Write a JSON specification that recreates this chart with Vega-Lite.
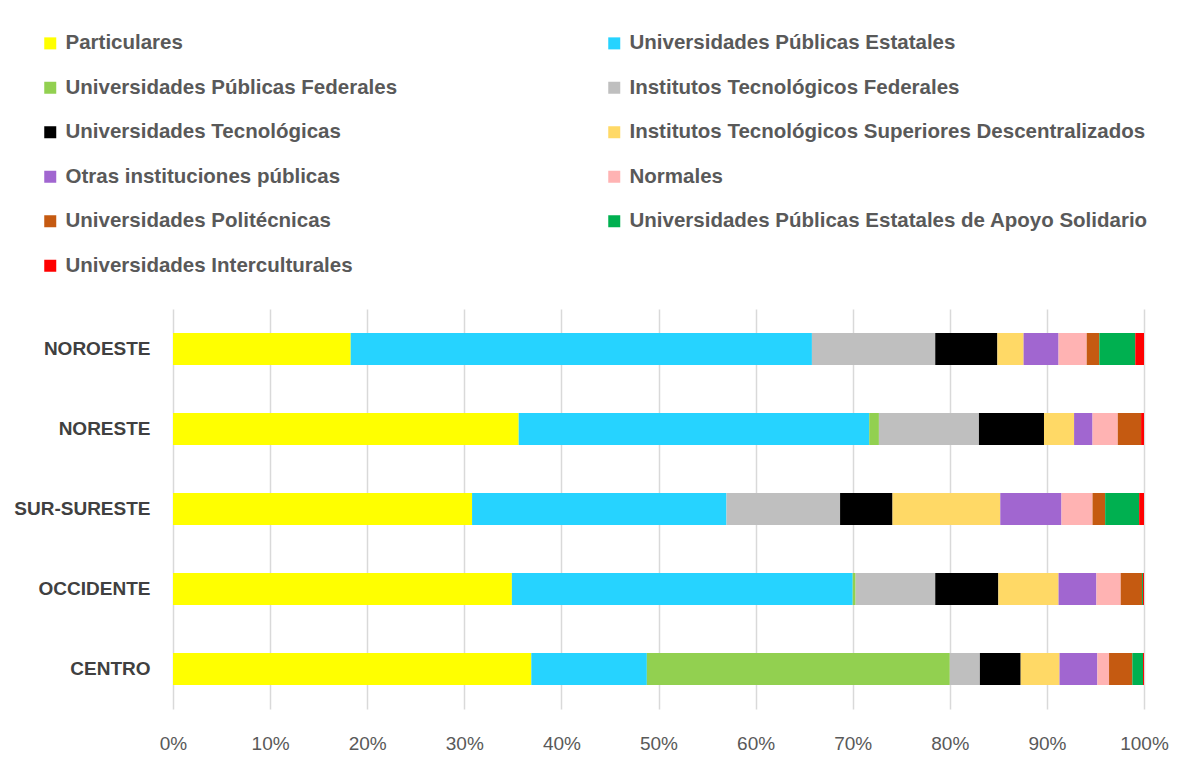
{
  "$schema": "https://vega.github.io/schema/vega-lite/v6.json",
  "width": 971,
  "height": 400,
  "autosize": {"type": "none"},
  "padding": {"left": 173, "top": 309, "right": 33, "bottom": 49},
  "background": "white",
  "config": {"view": {"stroke": null}},
  "data": {
    "values": [
      {"region": "NOROESTE", "tipo": "Particulares", "o": 1, "v": 18.3},
      {"region": "NOROESTE", "tipo": "Universidades Públicas Estatales", "o": 2, "v": 47.5},
      {"region": "NOROESTE", "tipo": "Universidades Públicas Federales", "o": 3, "v": 0},
      {"region": "NOROESTE", "tipo": "Institutos Tecnológicos Federales", "o": 4, "v": 12.7},
      {"region": "NOROESTE", "tipo": "Universidades Tecnológicas", "o": 5, "v": 6.4},
      {"region": "NOROESTE", "tipo": "Institutos Tecnológicos Superiores Descentralizados", "o": 6, "v": 2.7},
      {"region": "NOROESTE", "tipo": "Otras instituciones públicas", "o": 7, "v": 3.6},
      {"region": "NOROESTE", "tipo": "Normales", "o": 8, "v": 2.9},
      {"region": "NOROESTE", "tipo": "Universidades Politécnicas", "o": 9, "v": 1.3},
      {"region": "NOROESTE", "tipo": "Universidades Públicas Estatales de Apoyo Solidario", "o": 10, "v": 3.7},
      {"region": "NOROESTE", "tipo": "Universidades Interculturales", "o": 11, "v": 0.9},

      {"region": "NORESTE", "tipo": "Particulares", "o": 1, "v": 35.6},
      {"region": "NORESTE", "tipo": "Universidades Públicas Estatales", "o": 2, "v": 36.1},
      {"region": "NORESTE", "tipo": "Universidades Públicas Federales", "o": 3, "v": 1.0},
      {"region": "NORESTE", "tipo": "Institutos Tecnológicos Federales", "o": 4, "v": 10.3},
      {"region": "NORESTE", "tipo": "Universidades Tecnológicas", "o": 5, "v": 6.7},
      {"region": "NORESTE", "tipo": "Institutos Tecnológicos Superiores Descentralizados", "o": 6, "v": 3.1},
      {"region": "NORESTE", "tipo": "Otras instituciones públicas", "o": 7, "v": 1.9},
      {"region": "NORESTE", "tipo": "Normales", "o": 8, "v": 2.6},
      {"region": "NORESTE", "tipo": "Universidades Politécnicas", "o": 9, "v": 2.4},
      {"region": "NORESTE", "tipo": "Universidades Públicas Estatales de Apoyo Solidario", "o": 10, "v": 0},
      {"region": "NORESTE", "tipo": "Universidades Interculturales", "o": 11, "v": 0.3},

      {"region": "SUR-SURESTE", "tipo": "Particulares", "o": 1, "v": 30.8},
      {"region": "SUR-SURESTE", "tipo": "Universidades Públicas Estatales", "o": 2, "v": 26.2},
      {"region": "SUR-SURESTE", "tipo": "Universidades Públicas Federales", "o": 3, "v": 0},
      {"region": "SUR-SURESTE", "tipo": "Institutos Tecnológicos Federales", "o": 4, "v": 11.7},
      {"region": "SUR-SURESTE", "tipo": "Universidades Tecnológicas", "o": 5, "v": 5.4},
      {"region": "SUR-SURESTE", "tipo": "Institutos Tecnológicos Superiores Descentralizados", "o": 6, "v": 11.1},
      {"region": "SUR-SURESTE", "tipo": "Otras instituciones públicas", "o": 7, "v": 6.3},
      {"region": "SUR-SURESTE", "tipo": "Normales", "o": 8, "v": 3.2},
      {"region": "SUR-SURESTE", "tipo": "Universidades Politécnicas", "o": 9, "v": 1.3},
      {"region": "SUR-SURESTE", "tipo": "Universidades Públicas Estatales de Apoyo Solidario", "o": 10, "v": 3.5},
      {"region": "SUR-SURESTE", "tipo": "Universidades Interculturales", "o": 11, "v": 0.5},

      {"region": "OCCIDENTE", "tipo": "Particulares", "o": 1, "v": 34.9},
      {"region": "OCCIDENTE", "tipo": "Universidades Públicas Estatales", "o": 2, "v": 35.1},
      {"region": "OCCIDENTE", "tipo": "Universidades Públicas Federales", "o": 3, "v": 0.3},
      {"region": "OCCIDENTE", "tipo": "Institutos Tecnológicos Federales", "o": 4, "v": 8.2},
      {"region": "OCCIDENTE", "tipo": "Universidades Tecnológicas", "o": 5, "v": 6.5},
      {"region": "OCCIDENTE", "tipo": "Institutos Tecnológicos Superiores Descentralizados", "o": 6, "v": 6.2},
      {"region": "OCCIDENTE", "tipo": "Otras instituciones públicas", "o": 7, "v": 3.9},
      {"region": "OCCIDENTE", "tipo": "Normales", "o": 8, "v": 2.5},
      {"region": "OCCIDENTE", "tipo": "Universidades Politécnicas", "o": 9, "v": 2.2},
      {"region": "OCCIDENTE", "tipo": "Universidades Públicas Estatales de Apoyo Solidario", "o": 10, "v": 0.1},
      {"region": "OCCIDENTE", "tipo": "Universidades Interculturales", "o": 11, "v": 0.1},

      {"region": "CENTRO", "tipo": "Particulares", "o": 1, "v": 36.9},
      {"region": "CENTRO", "tipo": "Universidades Públicas Estatales", "o": 2, "v": 11.9},
      {"region": "CENTRO", "tipo": "Universidades Públicas Federales", "o": 3, "v": 31.2},
      {"region": "CENTRO", "tipo": "Institutos Tecnológicos Federales", "o": 4, "v": 3.1},
      {"region": "CENTRO", "tipo": "Universidades Tecnológicas", "o": 5, "v": 4.2},
      {"region": "CENTRO", "tipo": "Institutos Tecnológicos Superiores Descentralizados", "o": 6, "v": 4.0},
      {"region": "CENTRO", "tipo": "Otras instituciones públicas", "o": 7, "v": 3.9},
      {"region": "CENTRO", "tipo": "Normales", "o": 8, "v": 1.2},
      {"region": "CENTRO", "tipo": "Universidades Politécnicas", "o": 9, "v": 2.4},
      {"region": "CENTRO", "tipo": "Universidades Públicas Estatales de Apoyo Solidario", "o": 10, "v": 1.1},
      {"region": "CENTRO", "tipo": "Universidades Interculturales", "o": 11, "v": 0.1}
    ]
  },
  "mark": {"type": "bar", "height": 32},
  "encoding": {
    "y": {
      "field": "region",
      "type": "nominal",
      "sort": ["NOROESTE", "NORESTE", "SUR-SURESTE", "OCCIDENTE", "CENTRO"],
      "title": null,
      "axis": {
        "domain": false,
        "ticks": false,
        "grid": false,
        "labelFont": "Liberation Sans",
        "labelFontWeight": "bold",
        "labelFontSize": 19,
        "labelColor": "#404040",
        "labelPadding": 23
      }
    },
    "x": {
      "field": "v",
      "type": "quantitative",
      "stack": "normalize",
      "title": null,
      "scale": {"domain": [0, 1], "nice": false},
      "axis": {
        "values": [0, 0.1, 0.2, 0.3, 0.4, 0.5, 0.6, 0.7, 0.8, 0.9, 1],
        "format": ".0%",
        "domain": false,
        "ticks": false,
        "grid": true,
        "gridColor": "#d9d9d9",
        "gridWidth": 1.5,
        "labelFont": "Liberation Sans",
        "labelFontSize": 19,
        "labelColor": "#595959",
        "labelPadding": 25,
        "labelFlush": false
      }
    },
    "order": {"field": "o", "type": "quantitative"},
    "color": {
      "field": "tipo",
      "type": "nominal",
      "sort": ["Particulares", "Universidades Públicas Estatales", "Universidades Públicas Federales", "Institutos Tecnológicos Federales", "Universidades Tecnológicas", "Institutos Tecnológicos Superiores Descentralizados", "Otras instituciones públicas", "Normales", "Universidades Politécnicas", "Universidades Públicas Estatales de Apoyo Solidario", "Universidades Interculturales"],
      "scale": {
        "domain": ["Particulares", "Universidades Públicas Estatales", "Universidades Públicas Federales", "Institutos Tecnológicos Federales", "Universidades Tecnológicas", "Institutos Tecnológicos Superiores Descentralizados", "Otras instituciones públicas", "Normales", "Universidades Politécnicas", "Universidades Públicas Estatales de Apoyo Solidario", "Universidades Interculturales"],
        "range": ["#FFFF00", "#26D3FF", "#92D050", "#BFBFBF", "#000000", "#FFD966", "#A166D0", "#FFB3B3", "#C55A11", "#00B050", "#FF0000"]
      },
      "legend": {
        "title": null,
        "orient": "none",
        "legendX": -133,
        "legendY": -276,
        "columns": 2,
        "direction": "horizontal",
        "symbolType": "square",
        "symbolSize": 144,
        "symbolStrokeWidth": 0,
        "symbolOpacity": 1,
        "labelFont": "Liberation Sans",
        "labelFontWeight": "bold",
        "labelFontSize": 20.5,
        "labelColor": "#595959",
        "labelLimit": 700,
        "labelOffset": 5,
        "rowPadding": 23.5,
        "columnPadding": 206
      }
    }
  }
}
